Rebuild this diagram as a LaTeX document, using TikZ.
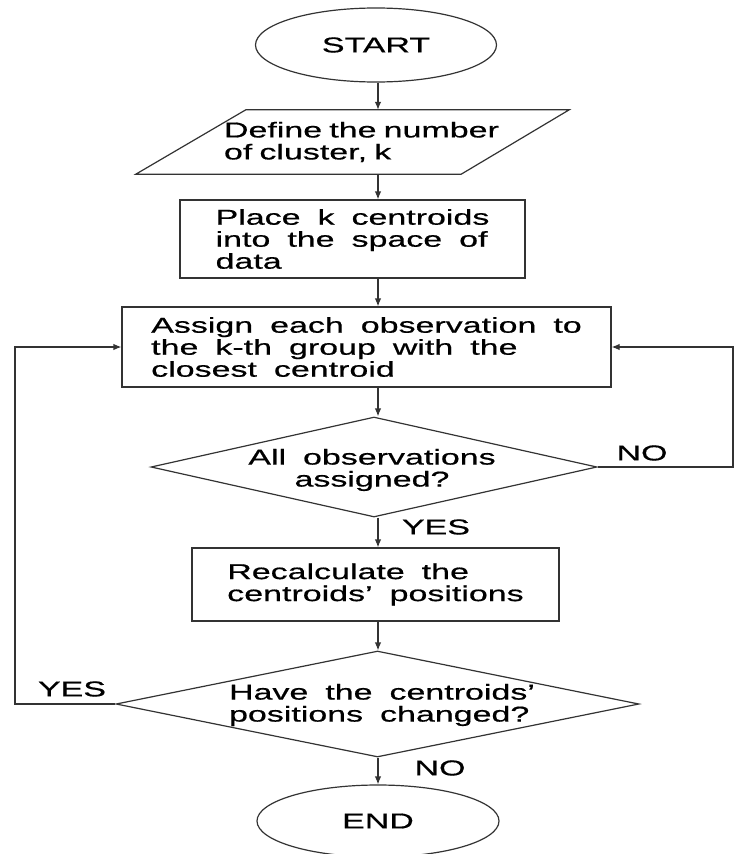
\documentclass[tikz,border=0pt]{standalone}
\usepackage{fontspec}
\setmainfont{Liberation Sans}[FakeStretch=1.58,WordSpace=1.8,FakeBold=0.6]
\usetikzlibrary{shapes.geometric,arrows.meta}
\tikzset{
  lbl/.style={font=\fontsize{21.5}{22}\selectfont, inner sep=0pt},
  shp/.style={draw=black!80, line width=1.2pt, inner sep=0pt, font=\fontsize{21.5}{22}\selectfont},
  boxnode/.style={shp, rectangle, align=left},
  term/.style={shp, ellipse},
  dec/.style={shp, diamond},
  conn/.style={draw=black!80, line width=1.2pt},
  arr/.style={conn, -{Latex[length=8pt,width=6.5pt]}}
}
\begin{document}
\begin{tikzpicture}[x=1pt,y=-1pt]
\useasboundingbox (0,0) rectangle (734,854);
\fill[white] (0,0) rectangle (734,854);

\node[term, minimum width=241, minimum height=74] (start) at (376,45) {START};

\node[lbl, text width=296, minimum height=64, align=left] (define) at (372,142) {Define the number\\of cluster, k};
\draw[conn] ([xshift=-88pt]define.south west) -- ([xshift=22pt]define.north west) -- ([xshift=49pt]define.north east) -- ([xshift=-59pt]define.south east) -- cycle;

\node[boxnode, minimum width=345, minimum height=78] (place) at (352.5,239) {Place k centroids\\into the space of\\data};

\node[boxnode, minimum width=489, minimum height=80] (assign) at (366.5,347) {Assign each observation to\\the k-th group with the\\closest centroid};

\node[dec, minimum width=446, minimum height=100] (d1) at (374,467) {};
\node[lbl, align=center] (d1t) at (372,470) {All observations\\assigned?};

\node[boxnode, minimum width=367, minimum height=73] (recalc) at (375.5,584.5) {Recalculate the\\centroids' positions};

\node[dec, minimum width=523, minimum height=106] (d2) at (377.5,704) {};
\node[lbl, align=left] (d2t) at (382,705) {Have the centroids'\\positions changed?};

\node[term, minimum width=242, minimum height=72] (end) at (378,821) {END};

\node[lbl] (no1) at (642,453) {NO};
\node[lbl] (yes1) at (436,527) {YES};
\node[lbl] (yes2) at (72,689) {YES};
\node[lbl] (no2) at (440,768) {NO};

\coordinate (ax) at (378,0);
\coordinate (rt) at (733,0);
\coordinate (lt) at (15,0);

\draw[arr] (ax |- start.south) -- (ax |- define.north);
\draw[arr] (ax |- define.south) -- (ax |- place.north);
\draw[arr] (ax |- place.south) -- (ax |- assign.north);
\draw[arr] (ax |- assign.south) -- (ax |- d1.north);
\draw[arr] (ax |- d1.south) -- (ax |- recalc.north);
\draw[arr] (ax |- recalc.south) -- (ax |- d2.north);
\draw[arr] (ax |- d2.south) -- (ax |- end.north);

\draw[arr] (d1.east) -- (d1.east -| rt) -- (assign.east -| rt) -- (assign.east);
\draw[arr] (d2.west) -- (d2.west -| lt) -- (assign.west -| lt) -- (assign.west);
\end{tikzpicture}
\end{document}
